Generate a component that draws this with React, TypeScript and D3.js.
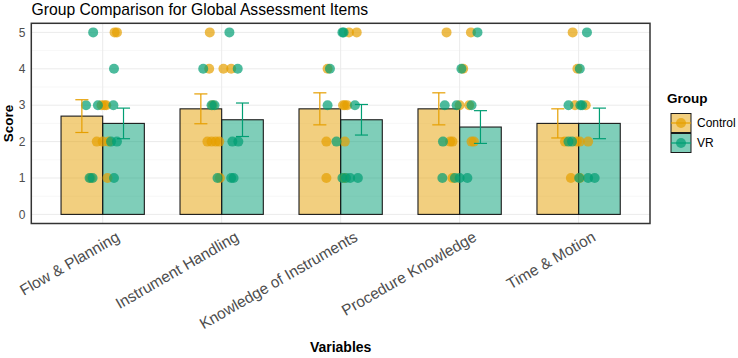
import * as d3 from "d3";

const categories = [
  "Flow & Planning",
  "Instrument Handling",
  "Knowledge of Instruments",
  "Procedure Knowledge",
  "Time & Motion",
];
const groups = ["Control", "VR"];
const groupColors = ["#E69F00", "#009E73"];

// group means and standard errors
const controlMeans = [2.7, 2.9, 2.9, 2.9, 2.5];
const vrMeans = [2.5, 2.6, 2.6, 2.4, 2.5];
const controlSE = [0.45, 0.41, 0.44, 0.44, 0.4];
const vrSE = [0.42, 0.46, 0.42, 0.45, 0.42];

// individual scores (one row per category) and their jitter, in category units
const controlScores = [
  [5, 5, 3, 3, 3, 2, 2, 2, 1, 1],
  [5, 4, 4, 4, 3, 2, 2, 2, 2, 1],
  [5, 5, 4, 3, 3, 3, 2, 2, 1, 1],
  [5, 5, 4, 3, 3, 2, 2, 2, 2, 1],
  [5, 4, 3, 3, 2, 2, 2, 2, 1, 1],
];
const controlJitter = [
  [0.1, 0.12, -0.01, 0.015, 0.03, -0.05, 0.05, 0.0, -0.1, 0.04],
  [-0.1, -0.105, 0.015, 0.08, -0.075, -0.12, -0.085, -0.05, -0.02, -0.015],
  [0.07, 0.135, -0.11, 0.035, 0.055, 0.02, -0.12, 0.035, -0.12, 0.03],
  [-0.11, 0.095, 0.03, 0.0, 0.08, -0.08, -0.06, 0.1, 0.12, -0.06],
  [-0.05, -0.01, -0.03, 0.06, -0.115, -0.015, 0.01, 0.08, -0.065, 0.01],
];
const vrScores = [
  [5, 4, 3, 3, 3, 2, 2, 1, 1, 1],
  [5, 4, 4, 3, 3, 2, 2, 1, 1, 1],
  [5, 5, 4, 3, 3, 2, 1, 1, 1, 1],
  [5, 4, 3, 3, 3, 2, 1, 1, 1, 1],
  [5, 4, 3, 3, 3, 2, 2, 1, 1, 1],
];
const vrJitter = [
  [-0.08, 0.095, -0.14, -0.04, 0.09, 0.07, 0.12, -0.11, -0.085, 0.095],
  [0.065, -0.155, 0.135, -0.085, -0.06, 0.09, 0.14, -0.035, 0.08, 0.1],
  [0.015, 0.025, -0.09, -0.11, 0.12, -0.035, 0.015, 0.08, 0.145, 0.045],
  [0.15, 0.015, -0.125, -0.025, 0.1, -0.14, -0.145, -0.04, 0.0, 0.065],
  [0.07, 0.01, -0.085, 0.015, 0.03, -0.085, -0.055, 0.005, 0.08, 0.135],
];

const yTicks = [0, 1, 2, 3, 4, 5];
const yMinor = [0.5, 1.5, 2.5, 3.5, 4.5];

const width = 738;
const height = 358;
const panel = { left: 31.3, right: 650, top: 23.3, bottom: 223.5 };
const font = "'Liberation Sans', Arial, Helvetica, sans-serif";

export default function App() {
  const x = d3
    .scalePoint<string>()
    .domain(categories)
    .range([panel.left, panel.right])
    .padding(0.6);
  const y = d3.scaleLinear().domain([-0.25, 5.25]).range([panel.bottom, panel.top]);
  const step = x.step();
  const barW = step * 0.35;
  const capW = step * 0.11;

  const means = [controlMeans, vrMeans];
  const ses = [controlSE, vrSE];
  const scores = [controlScores, vrScores];
  const jitters = [controlJitter, vrJitter];

  return (
    <svg
      width={width}
      height={height}
      style={{ position: "absolute", left: 0, top: 0, background: "#fff" }}
      fontFamily={font}
    >
      <text x={31.5} y={15} fontSize={15.7} fill="#000">
        Group Comparison for Global Assessment Items
      </text>

      {/* grid */}
      {yMinor.map((t) => (
        <line key={"mi" + t} x1={panel.left} x2={panel.right} y1={y(t)} y2={y(t)} stroke="#F2F2F2" strokeWidth={0.6} />
      ))}
      {yTicks.map((t) => (
        <line key={"ma" + t} x1={panel.left} x2={panel.right} y1={y(t)} y2={y(t)} stroke="#EBEBEB" strokeWidth={1} />
      ))}
      {categories.map((c) => (
        <line key={"v" + c} x1={x(c)} x2={x(c)} y1={panel.top} y2={panel.bottom} stroke="#EBEBEB" strokeWidth={1} />
      ))}

      {/* bars */}
      {groups.map((g, gi) =>
        categories.map((c, ci) => {
          const cx = x(c)! + (gi === 0 ? -barW / 2 : barW / 2);
          return (
            <rect
              key={g + c}
              x={cx - barW / 2}
              y={y(means[gi][ci])}
              width={barW}
              height={y(0) - y(means[gi][ci])}
              fill={groupColors[gi]}
              fillOpacity={0.5}
              stroke="#1a1a1a"
              strokeWidth={1.1}
            />
          );
        })
      )}

      {/* jittered points */}
      {groups.map((g, gi) =>
        categories.map((c, ci) =>
          scores[gi][ci].map((s, i) => (
            <circle
              key={g + c + i}
              cx={x(c)! + jitters[gi][ci][i] * step}
              cy={y(s)}
              r={5}
              fill={groupColors[gi]}
              fillOpacity={0.7}
            />
          ))
        )
      )}

      {/* error bars */}
      {groups.map((g, gi) =>
        categories.map((c, ci) => {
          const cx = x(c)! + (gi === 0 ? -barW / 2 : barW / 2);
          const lo = y(means[gi][ci] - ses[gi][ci]);
          const hi = y(means[gi][ci] + ses[gi][ci]);
          return (
            <g key={"e" + g + c} stroke={groupColors[gi]} strokeWidth={1.2} fill="none">
              <line x1={cx} x2={cx} y1={lo} y2={hi} />
              <line x1={cx - capW / 2} x2={cx + capW / 2} y1={lo} y2={lo} />
              <line x1={cx - capW / 2} x2={cx + capW / 2} y1={hi} y2={hi} />
            </g>
          );
        })
      )}

      {/* panel border */}
      <rect
        x={panel.left}
        y={panel.top}
        width={panel.right - panel.left}
        height={panel.bottom - panel.top}
        fill="none"
        stroke="#333"
        strokeWidth={1.5}
      />

      {/* y axis */}
      {yTicks.map((t) => (
        <text key={"yt" + t} x={25.5} y={y(t)} dy="0.35em" textAnchor="end" fontSize={12} fill="#4D4D4D">
          {t}
        </text>
      ))}
      <text
        transform={`translate(13,${(panel.top + panel.bottom) / 2}) rotate(-90)`}
        textAnchor="middle"
        fontSize={13.5}
        fontWeight="bold"
        fill="#000"
      >
        Score
      </text>

      {/* x axis */}
      {categories.map((c) => (
        <text
          key={"xt" + c}
          transform={`translate(${x(c)! + 18},240) rotate(-30)`}
          textAnchor="end"
          fontSize={15.5}
          fill="#4D4D4D"
        >
          {c}
        </text>
      ))}
      <text x={(panel.left + panel.right) / 2} y={352} textAnchor="middle" fontSize={14} fontWeight="bold" fill="#000">
        Variables
      </text>

      {/* legend */}
      <text x={667} y={103} fontSize={13.5} fontWeight="bold" fill="#000">
        Group
      </text>
      {groups.map((g, gi) => {
        const ky = 113.5 + gi * 20;
        return (
          <g key={"lg" + g}>
            <rect x={671} y={ky} width={20} height={19} fill={groupColors[gi]} fillOpacity={0.5} stroke="#1a1a1a" strokeWidth={1} />
            <line x1={671} x2={691} y1={ky + 9.5} y2={ky + 9.5} stroke={groupColors[gi]} strokeWidth={1.2} />
            <circle cx={681} cy={ky + 9.5} r={5} fill={groupColors[gi]} fillOpacity={0.7} />
            <text x={697} y={ky + 9.5} dy="0.35em" fontSize={12} fill="#000">
              {g}
            </text>
          </g>
        );
      })}
    </svg>
  );
}
